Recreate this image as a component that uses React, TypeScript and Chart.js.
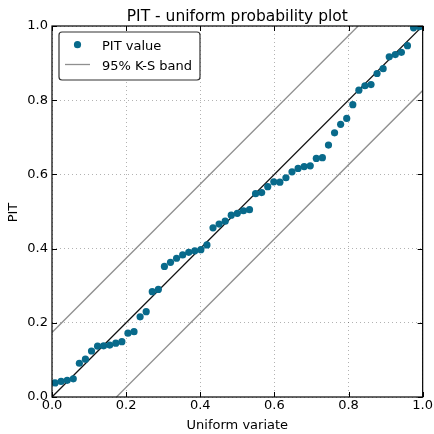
import { useEffect, useRef } from 'react';
import { Chart, registerables } from 'chart.js';

Chart.register(...registerables);

const TITLE = 'PIT - uniform probability plot';
const X_LABEL = 'Uniform variate';
const Y_LABEL = 'PIT';
const POINT_LABEL = 'PIT value';
const BAND_LABEL = '95% K-S band';
const TICK_VALUES = [0, 0.2, 0.4, 0.6, 0.8, 1.0];

const UNIFORM_X = [
  0.0082, 0.0246, 0.041, 0.0574, 0.0738, 0.0902, 0.1066, 0.123, 0.1393, 0.1557,
  0.1721, 0.1885, 0.2049, 0.2213, 0.2377, 0.2541, 0.2705, 0.2869, 0.3033, 0.3197,
  0.3361, 0.3525, 0.3689, 0.3852, 0.4016, 0.418, 0.4344, 0.4508, 0.4672, 0.4836,
  0.5, 0.5164, 0.5328, 0.5492, 0.5656, 0.582, 0.5984, 0.6148, 0.6311, 0.6475,
  0.6639, 0.6803, 0.6967, 0.7131, 0.7295, 0.7459, 0.7623, 0.7787, 0.7951, 0.8115,
  0.8279, 0.8443, 0.8607, 0.877, 0.8934, 0.9098, 0.9262, 0.9426, 0.959, 0.9754,
  0.9918,
];

const PIT_VALUES = [
  0.038, 0.042, 0.045, 0.049, 0.091, 0.102, 0.124, 0.137, 0.138, 0.14,
  0.145, 0.149, 0.172, 0.176, 0.216, 0.23, 0.284, 0.29, 0.352, 0.363,
  0.374, 0.383, 0.39, 0.394, 0.397, 0.41, 0.456, 0.466, 0.474, 0.49,
  0.495, 0.502, 0.505, 0.548, 0.551, 0.567, 0.58, 0.579, 0.591, 0.607,
  0.616, 0.621, 0.623, 0.643, 0.645, 0.679, 0.712, 0.735, 0.751, 0.788,
  0.827, 0.839, 0.842, 0.872, 0.885, 0.917, 0.923, 0.929, 0.947, 0.995,
  0.998,
];

const KS_BAND = 0.174;

const POINT_COLOR = '#086a8b';
const BAND_COLOR = '#8f8f8f';
const FONT = "'DejaVu Sans', sans-serif";

const decorPlugin = {
  id: 'decor',
  afterDraw(chart: any) {
    const { ctx, chartArea } = chart;
    const { left, right, top, bottom } = chartArea;
    const xs = chart.scales.x;
    const ys = chart.scales.y;
    ctx.save();
    // inward ticks on all four sides
    ctx.strokeStyle = '#000';
    ctx.lineWidth = 1;
    const tl = 5;
    ctx.beginPath();
    TICK_VALUES.forEach((v) => {
      const px = Math.round(xs.getPixelForValue(v)) + 0.5;
      ctx.moveTo(px, bottom);
      ctx.lineTo(px, bottom - tl);
      ctx.moveTo(px, top);
      ctx.lineTo(px, top + tl);
      const py = Math.round(ys.getPixelForValue(v)) + 0.5;
      ctx.moveTo(left, py);
      ctx.lineTo(left + tl, py);
      ctx.moveTo(right, py);
      ctx.lineTo(right - tl, py);
    });
    ctx.stroke();
    // frame
    ctx.strokeStyle = '#000';
    ctx.lineWidth = 1.2;
    ctx.strokeRect(left, top, right - left, bottom - top);

    // title and axis titles
    ctx.fillStyle = '#000';
    ctx.textAlign = 'center';
    ctx.textBaseline = 'alphabetic';
    ctx.font = `15.5px ${FONT}`;
    ctx.fillText(TITLE, (left + right) / 2, 21);
    ctx.font = `13px ${FONT}`;
    ctx.fillText(X_LABEL, (left + right) / 2, 429);
    ctx.save();
    ctx.translate(16.5, 212.5);
    ctx.rotate(-Math.PI / 2);
    ctx.fillText(Y_LABEL, 0, 0);
    ctx.restore();

    // legend
    const lx = 59, ly = 32, lw = 141, lh = 48, r = 3;
    ctx.beginPath();
    ctx.moveTo(lx + r, ly);
    ctx.lineTo(lx + lw - r, ly);
    ctx.quadraticCurveTo(lx + lw, ly, lx + lw, ly + r);
    ctx.lineTo(lx + lw, ly + lh - r);
    ctx.quadraticCurveTo(lx + lw, ly + lh, lx + lw - r, ly + lh);
    ctx.lineTo(lx + r, ly + lh);
    ctx.quadraticCurveTo(lx, ly + lh, lx, ly + lh - r);
    ctx.lineTo(lx, ly + r);
    ctx.quadraticCurveTo(lx, ly, lx + r, ly);
    ctx.closePath();
    ctx.fillStyle = '#fff';
    ctx.fill();
    ctx.strokeStyle = '#333';
    ctx.lineWidth = 1.2;
    ctx.stroke();

    ctx.fillStyle = POINT_COLOR;
    ctx.beginPath();
    ctx.arc(77.5, 44.7, 3.6, 0, Math.PI * 2);
    ctx.fill();
    ctx.strokeStyle = BAND_COLOR;
    ctx.lineWidth = 1.3;
    ctx.beginPath();
    ctx.moveTo(65, 64.5);
    ctx.lineTo(90, 64.5);
    ctx.stroke();
    ctx.fillStyle = '#000';
    ctx.textAlign = 'left';
    ctx.font = `13px ${FONT}`;
    ctx.fillText(POINT_LABEL, 102, 49.5);
    ctx.fillText(BAND_LABEL, 102, 69.5);
    ctx.restore();
  },
};

export default function App() {
  const ref = useRef<HTMLCanvasElement | null>(null);
  useEffect(() => {
    if (!ref.current) return;
    const points = UNIFORM_X.map((x, i) => ({ x, y: PIT_VALUES[i] }));
    const upper = [
      { x: 0, y: KS_BAND },
      { x: 1 - KS_BAND, y: 1 },
    ];
    const lower = [
      { x: KS_BAND, y: 0 },
      { x: 1, y: 1 - KS_BAND },
    ];
    const diag = [
      { x: 0, y: 0 },
      { x: 1, y: 1 },
    ];
    const tickFont = { family: FONT, size: 13 };
    const chart = new Chart(ref.current, {
      type: 'scatter',
      data: {
        datasets: [
          {
            label: POINT_LABEL,
            data: points,
            backgroundColor: POINT_COLOR,
            borderWidth: 0,
            pointRadius: 3.6,
            clip: 0,
            order: 0,
          },
          {
            type: 'line',
            label: BAND_LABEL,
            data: upper,
            borderColor: BAND_COLOR,
            borderWidth: 1.3,
            pointRadius: 0,
            showLine: true,
            clip: 0,
            order: 2,
          },
          {
            type: 'line',
            label: '_lower',
            data: lower,
            borderColor: BAND_COLOR,
            borderWidth: 1.3,
            pointRadius: 0,
            showLine: true,
            clip: 0,
            order: 2,
          },
          {
            type: 'line',
            label: '_diag',
            data: diag,
            borderColor: '#111',
            borderWidth: 1.3,
            pointRadius: 0,
            showLine: true,
            clip: 0,
            order: 1,
          },
        ],
      },
      options: {
        animation: false,
        responsive: false,
        layout: { padding: { top: 26, right: 11, left: 0, bottom: 0 } },
        plugins: {
          legend: { display: false },
          title: { display: false },
          tooltip: { enabled: false },
        },
        scales: {
          x: {
            type: 'linear',
            min: 0,
            max: 1,
            afterFit: (s: any) => {
              s.height = 37;
            },
            ticks: {
              stepSize: 0.2,
              padding: 1,
              color: '#000',
              font: tickFont,
              maxRotation: 0,
              callback: (v: any) => Number(v).toFixed(1),
            },
            grid: { color: 'rgba(0,0,0,0.3)', lineWidth: 1, drawTicks: false },
            border: { display: false, dash: [1, 3] },
          },
          y: {
            type: 'linear',
            min: 0,
            max: 1,
            afterFit: (s: any) => {
              s.width = 52;
            },
            ticks: {
              stepSize: 0.2,
              padding: 4,
              color: '#000',
              font: tickFont,
              callback: (v: any) => Number(v).toFixed(1),
            },
            grid: { color: 'rgba(0,0,0,0.3)', lineWidth: 1, drawTicks: false },
            border: { display: false, dash: [1, 3] },
          },
        },
      },
      plugins: [decorPlugin],
    });
    return () => chart.destroy();
  }, []);
  return (
    <div style={{ position: 'absolute', left: 0, top: 0, width: 434, height: 434, background: '#fff' }}>
      <canvas ref={ref} width={434} height={434} />
    </div>
  );
}
